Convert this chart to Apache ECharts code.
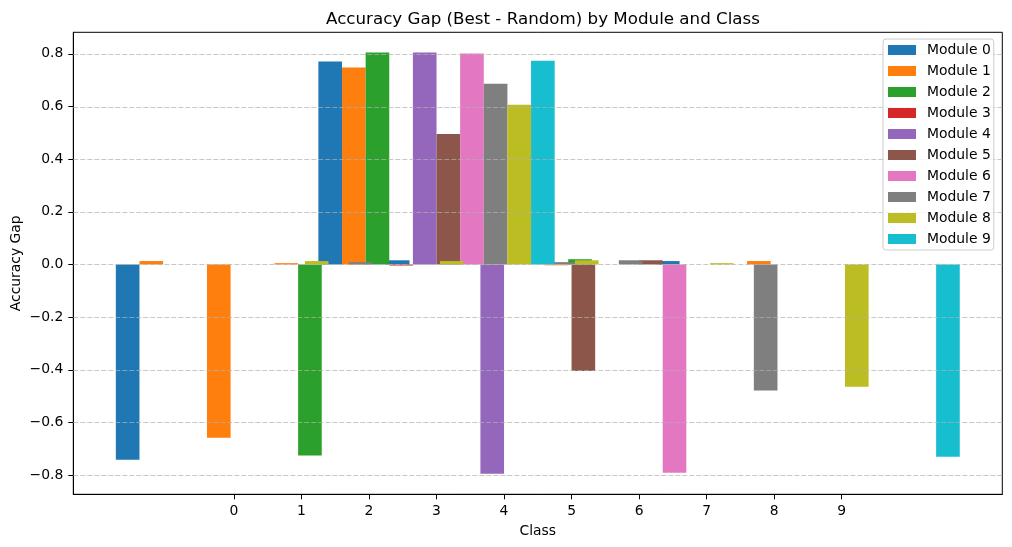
<!DOCTYPE html>
<html>
<head>
    <meta charset="utf-8">
    <title>Accuracy Gap</title>
    <script src="https://cdn.jsdelivr.net/npm/echarts@6/dist/echarts.min.js"></script>
    <style>
        body { margin: 0; background: #fff; }
        #chart1 { width: 1012px; height: 547px; }
    </style>
</head>
<body>
<div id="chart1"></div>
<script type="text/javascript">
// 数据
var classes = ['0', '1', '2', '3', '4', '5', '6', '7', '8', '9'];
var moduleNames = ['Module 0', 'Module 1', 'Module 2', 'Module 3', 'Module 4',
                   'Module 5', 'Module 6', 'Module 7', 'Module 8', 'Module 9'];
var module0 = [-0.742, 0, 0, 0.771, 0.016, 0, 0, 0, 0.013, 0];
var module1 = [0.013, -0.658, 0.005, 0.748, 0, 0, -0.003, 0, 0, 0.013];
var module2 = [0, 0, -0.726, 0.805, 0, 0, 0.020, 0, 0, 0];
var module3 = [0, 0, 0, -0.004, 0, 0, 0, 0, 0, 0];
var module4 = [0, 0, 0, 0.805, -0.795, 0, 0, 0, 0, 0];
var module5 = [0, 0, 0, 0.496, 0, -0.405, 0.016, 0, 0, 0];
var module6 = [0, 0, 0, 0.801, 0, 0, -0.791, 0, 0, 0];
var module7 = [0, 0.009, 0, 0.687, 0.009, 0.016, 0, -0.479, 0, 0];
var module8 = [0.013, 0, 0.013, 0.607, 0.016, 0, 0.005, 0, -0.464, 0];
var module9 = [0, 0, 0, 0.774, 0, 0, 0, 0, 0, -0.730];
var yTicks = [-0.8, -0.6, -0.4, -0.2, 0, 0.2, 0.4, 0.6, 0.8];

var allModules = [module0, module1, module2, module3, module4,
                  module5, module6, module7, module8, module9];
var colors = ['#1f77b4', '#ff7f0e', '#2ca02c', '#d62728', '#9467bd',
              '#8c564b', '#e377c2', '#7f7f7f', '#bcbd22', '#17becf'];
var barWidth = 0.35;
var font = 'DejaVu Sans';
var xTickPos = classes.map(function (c, i) { return i; });

// 每个柱子: 中心 x 和高度, 通过坐标轴换算成像素
function renderBar(params, api) {
    var x = api.value(0);
    var v = api.value(1);
    var p0 = api.coord([x - barWidth / 2, 0]);
    var p1 = api.coord([x + barWidth / 2, v]);
    return {
        type: 'rect',
        shape: {
            x: p0[0],
            y: Math.min(p0[1], p1[1]),
            width: p1[0] - p0[0],
            height: Math.abs(p1[1] - p0[1])
        },
        style: { fill: api.visual('color') }
    };
}

// 虚线网格画在柱子上面 (和 matplotlib 一样)
function renderGridLine(params, api) {
    var cs = params.coordSys;
    var y = Math.round(api.coord([0, api.value(1)])[1]) + 0.5;
    return {
        type: 'line',
        shape: { x1: cs.x, y1: y, x2: cs.x + cs.width, y2: y },
        style: { stroke: 'rgba(176,176,176,0.7)', lineWidth: 1, lineDash: [5, 2] }
    };
}

var series = [];
for (var k = 0; k < allModules.length; k++) {
    var pts = [];
    for (var m = 0; m < classes.length; m++) {
        pts.push([m + (k - 4.5) * barWidth, allModules[k][m]]);
    }
    series.push({
        name: moduleNames[k],
        type: 'custom',
        renderItem: renderBar,
        itemStyle: { color: colors[k] },
        data: pts,
        z: 2
    });
}
series.push({
    name: 'grid',
    type: 'custom',
    renderItem: renderGridLine,
    silent: true,
    data: yTicks.map(function (v) { return [0, v]; }),
    z: 3
});

var myChart1 = echarts.init(document.getElementById('chart1'));
myChart1.setOption({
    animation: false,
    color: colors,
    textStyle: { fontFamily: font },
    title: {
        text: 'Accuracy Gap (Best - Random) by Module and Class',
        left: 538,
        textAlign: 'center',
        top: 6,
        textStyle: { fontFamily: font, fontSize: 16.7, fontWeight: 'normal', color: '#000' }
    },
    legend: {
        data: moduleNames,
        orient: 'vertical',
        left: 883,
        top: 39,
        padding: [4, 3, 4, 5],
        itemWidth: 28,
        itemHeight: 10,
        itemGap: 7,
        icon: 'rect',
        backgroundColor: 'rgba(255,255,255,0.8)',
        borderColor: '#cccccc',
        borderWidth: 1,
        borderRadius: 3,
        textStyle: { fontFamily: font, fontSize: 13.9, color: '#000', lineHeight: 14, padding: [0, 0, 0, 6] }
    },
    grid: {
        left: 73.3,
        right: 9.7,
        top: 32.3,
        bottom: 52.7,
        outerBoundsMode: 'none',
        show: true,
        borderColor: '#000',
        borderWidth: 1,
        backgroundColor: 'transparent'
    },
    xAxis: {
        type: 'value',
        min: -2.38,
        max: 11.38,
        name: 'Class',
        nameLocation: 'middle',
        nameGap: 30,
        nameMoveOverlap: false,
        nameTextStyle: { fontFamily: font, fontSize: 13.9, color: '#000' },
        axisLine: { show: true, onZero: false, lineStyle: { color: '#000' } },
        axisTick: { show: true, length: 5, customValues: xTickPos, lineStyle: { color: '#000' } },
        axisLabel: {
            customValues: xTickPos,
            formatter: function (v) { return classes[Math.round(v)]; },
            margin: 10,
            fontFamily: font,
            fontSize: 13.9,
            color: '#000'
        },
        splitLine: { show: false }
    },
    yAxis: {
        type: 'value',
        min: -0.873,
        max: 0.882,
        name: 'Accuracy Gap',
        nameLocation: 'middle',
        nameGap: 50,
        nameMoveOverlap: false,
        nameTextStyle: { fontFamily: font, fontSize: 13.9, color: '#000' },
        axisLine: { show: true, onZero: false, lineStyle: { color: '#000' } },
        axisTick: { show: true, length: 5, customValues: yTicks, lineStyle: { color: '#000' } },
        axisLabel: {
            customValues: yTicks,
            formatter: function (v) { return v.toFixed(1).replace('-', '\u2212'); },
            margin: 10,
            fontFamily: font,
            fontSize: 13.9,
            color: '#000'
        },
        splitLine: { show: false }
    },
    series: series
});
</script>
</body>
</html>
